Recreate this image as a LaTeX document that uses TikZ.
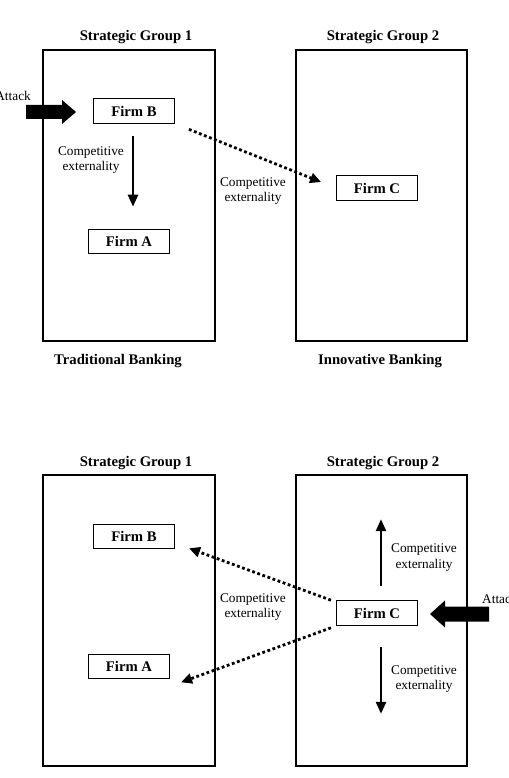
\documentclass[tikz,border=0pt]{standalone}
\usepackage{fontspec}
\setmainfont{Liberation Serif}
\usetikzlibrary{arrows.meta,calc}
\begin{document}
\begin{tikzpicture}[x=1pt,y=-1pt,
  group/.style={draw, line width=1.4pt, inner sep=0pt},
  firm/.style={draw, line width=1.1pt, minimum width=81pt, minimum height=24.5pt,
    inner sep=0pt, font=\fontsize{14.7}{16}\selectfont\bfseries},
  title/.style={anchor=base, inner sep=0pt, font=\fontsize{14.7}{16}\selectfont\bfseries},
  ext/.style={align=center, inner sep=0pt, font=\fontsize{13.3}{15.5}\selectfont},
  attacklabel/.style={inner sep=0pt, font=\fontsize{13.3}{15.5}\selectfont},
  solidarrow/.style={line width=2.6pt, -{Triangle[length=12pt,width=10pt]}},
  dotarrow/.style={line width=2.8pt, dash pattern=on 2.8pt off 2.6pt,
    -{Triangle[length=11pt,width=10pt]}},
  bigarrow/.style={fill=black}
]
\useasboundingbox (0,0) rectangle (508,778);
\clip (0,0) rectangle (508,778);

% ---------- upper scenario: attack on Firm B ----------
\node[group, minimum width=172pt, minimum height=291pt] (g1) at (129,195.5) {};
\node[group, minimum width=171pt, minimum height=291pt] (g2) at (381.5,195.5) {};
\node[title] (t1) at (136,40.5) {Strategic Group 1};
\node[title] (t2) at (383,40.5) {Strategic Group 2};
\node[title] (b1) at (118,364) {Traditional Banking};
\node[title] (b2) at (380,364) {Innovative Banking};

\node[firm] (fb) at (134,111) {Firm B};
\node[firm] (fa) at (129,241.5) {Firm A};
\node[firm] (fc) at (377,188) {Firm C};

\draw[solidarrow, shorten <=12pt, shorten >=22pt]
  ([xshift=-1pt]fb.south) -- ([xshift=-1pt]fb.south |- fa.north);
\draw[dotarrow, shorten <=15pt, shorten >=16pt] (fb.south east) -- (fc.west);

\node[ext] (e1) at (91,160) {Competitive\\externality};
\node[ext] (e2) at (253,191) {Competitive\\externality};

\coordinate (atk1) at (76,112);
\fill[bigarrow] (atk1) -- ++(-14,-12) -- ++(0,5) -- ++(-36,0) -- ++(0,14)
  -- ++(36,0) -- ++(0,5) -- cycle;
\node[attacklabel, anchor=base east] (al1) at (31,101) {Attack};

% ---------- lower scenario: attack on Firm C ----------
\node[group, minimum width=172pt, minimum height=291pt] (g3) at (129,620.5) {};
\node[group, minimum width=171pt, minimum height=291pt] (g4) at (381.5,620.5) {};
\node[title] (t3) at (136,466) {Strategic Group 1};
\node[title] (t4) at (383,466) {Strategic Group 2};

\node[firm] (fb2) at (134,536.5) {Firm B};
\node[firm] (fa2) at (129,666.5) {Firm A};
\node[firm] (fc2) at (377,613) {Firm C};

\draw[solidarrow, shorten <=14pt] ([xshift=4pt]fc2.north) -- ++(0,-81);
\draw[solidarrow, shorten <=21pt] ([xshift=4pt]fc2.south) -- ++(0,88);
\draw[dotarrow] ($(fc2.north west)+(-5,0)$) -- ($(fb2.south east)+(14,-1)$);
\draw[dotarrow] ($(fc2.south west)+(-5,2)$) -- ($(fa2.south east)+(11,3)$);

\node[ext] (e3) at (253,607) {Competitive\\externality};
\node[ext] (e4) at (424,557.5) {Competitive\\externality};
\node[ext] (e5) at (424,679) {Competitive\\externality};

\coordinate (atk2) at (430,614);
\fill[bigarrow] (atk2) -- ++(15,-13.5) -- ++(0,6) -- ++(44,0) -- ++(0,15)
  -- ++(-44,0) -- ++(0,6) -- cycle;
\node[attacklabel, anchor=base west] (al2) at (482,603) {Attack};
\end{tikzpicture}
\end{document}
